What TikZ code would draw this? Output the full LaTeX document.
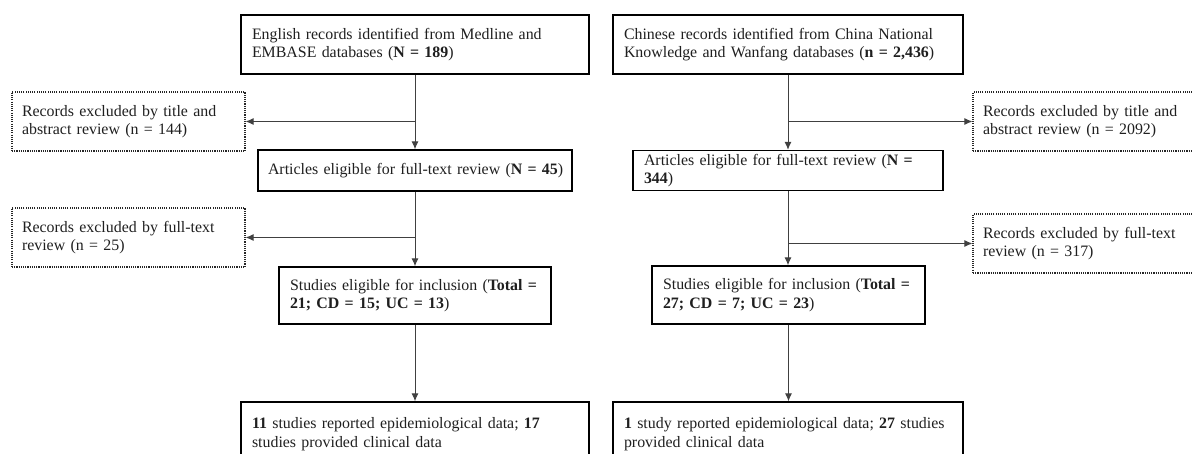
\documentclass[tikz,border=0pt]{standalone}
\usepackage{fontspec}
\setmainfont{Liberation Serif}
\usetikzlibrary{arrows.meta}
\newcommand{\oneline}[1]{\mbox{#1}}
\tikzset{
 every node/.style={font=\fontsize{15.9}{18.5}\selectfont},
 solidbox/.style={draw=black, line width=1.4pt, align=left, inner xsep=11pt, inner ysep=2pt, text=black!88},
 dotbox/.style={draw=black!85, line width=1.1pt, dash pattern=on 1.1pt off 1.1pt, align=left, inner xsep=10pt, inner ysep=2pt, text=black!88},
 conn/.style={draw=black!75, line width=1pt},
 arr/.style={conn, -{Latex[length=8pt,width=7pt]}},
}
\begin{document}
\begin{tikzpicture}[x=1pt,y=-1pt]
\useasboundingbox (0,0) rectangle (1192,454);
\clip (0,0) rectangle (1192,454);
% left column
\node[solidbox, text width=326pt, minimum height=59pt] (e1) at (415,44.5)
 {\oneline{English records identified from Medline and}\\\oneline{EMBASE databases (\textbf{N = 189})}};
\node[dotbox, text width=213pt, minimum height=59pt] (x1) at (128.5,121.5)
 {\oneline{Records excluded by title and}\\\oneline{abstract review (n = 144)}};
\node[solidbox, text width=294pt, inner xsep=10pt, minimum height=41pt] (al) at (415,170.5)
 {\oneline{Articles eligible for full-text review (\textbf{N = 45})}};
\node[dotbox, text width=213pt, minimum height=59pt] (x2) at (128.5,237.5)
 {\oneline{Records excluded by full-text}\\\oneline{review (n = 25)}};
\node[solidbox, text width=250pt, minimum height=57pt] (sl) at (415,295.5)
 {\oneline{Studies eligible for inclusion (\textbf{Total =}}\\\oneline{\textbf{21; CD = 15; UC = 13})}};
\node[solidbox, text width=326pt, minimum height=64pt] (bl) at (415,434)
 {\oneline{\textbf{11} studies reported epidemiological data; \textbf{17}}\\\oneline{studies provided clinical data}};
% right column
\node[solidbox, text width=328pt, minimum height=59pt] (c1) at (788,44.5)
 {\oneline{Chinese records identified from China National}\\\oneline{Knowledge and Wanfang databases (\textbf{n = 2,436})}};
\node[dotbox, text width=212pt, minimum height=59pt] (x3) at (1089,121.5)
 {\oneline{Records excluded by title and}\\\oneline{abstract review (n = 2092)}};
\node[solidbox, text width=288pt, minimum height=40pt] (ar) at (788,170.5)
 {\oneline{Articles eligible for full-text review (\textbf{N =}}\\\oneline{\textbf{344})}};
\node[dotbox, text width=212pt, minimum height=59pt] (x4) at (1089,243.5)
 {\oneline{Records excluded by full-text}\\\oneline{review (n = 317)}};
\node[solidbox, text width=251pt, minimum height=58pt] (sr) at (788.5,295)
 {\oneline{Studies eligible for inclusion (\textbf{Total =}}\\\oneline{\textbf{27; CD = 7; UC = 23})}};
\node[solidbox, text width=328pt, minimum height=64pt] (br) at (788,434)
 {\oneline{\textbf{1} study reported epidemiological data; \textbf{27} studies}\\\oneline{provided clinical data}};
% connectors left
\draw[arr] (e1.south) -- (e1.south |- al.north);
\coordinate (b1) at (e1.south |- x1.east);
\draw[arr] (b1) -- (x1.east);
\draw[arr] (al.south) -- (al.south |- sl.north);
\coordinate (b2) at (al.south |- x2.east);
\draw[arr] (b2) -- (x2.east);
\draw[arr] (sl.south) -- (sl.south |- bl.north);
% connectors right
\draw[arr] (c1.south) -- (c1.south |- ar.north);
\coordinate (b3) at (c1.south |- x3.west);
\draw[arr] (b3) -- (x3.west);
\draw[arr] (ar.south) -- (ar.south |- sr.north);
\coordinate (b4) at (ar.south |- x4.west);
\draw[arr] (b4) -- (x4.west);
\draw[arr] (sr.south) -- (sr.south |- br.north);
\end{tikzpicture}
\end{document}
